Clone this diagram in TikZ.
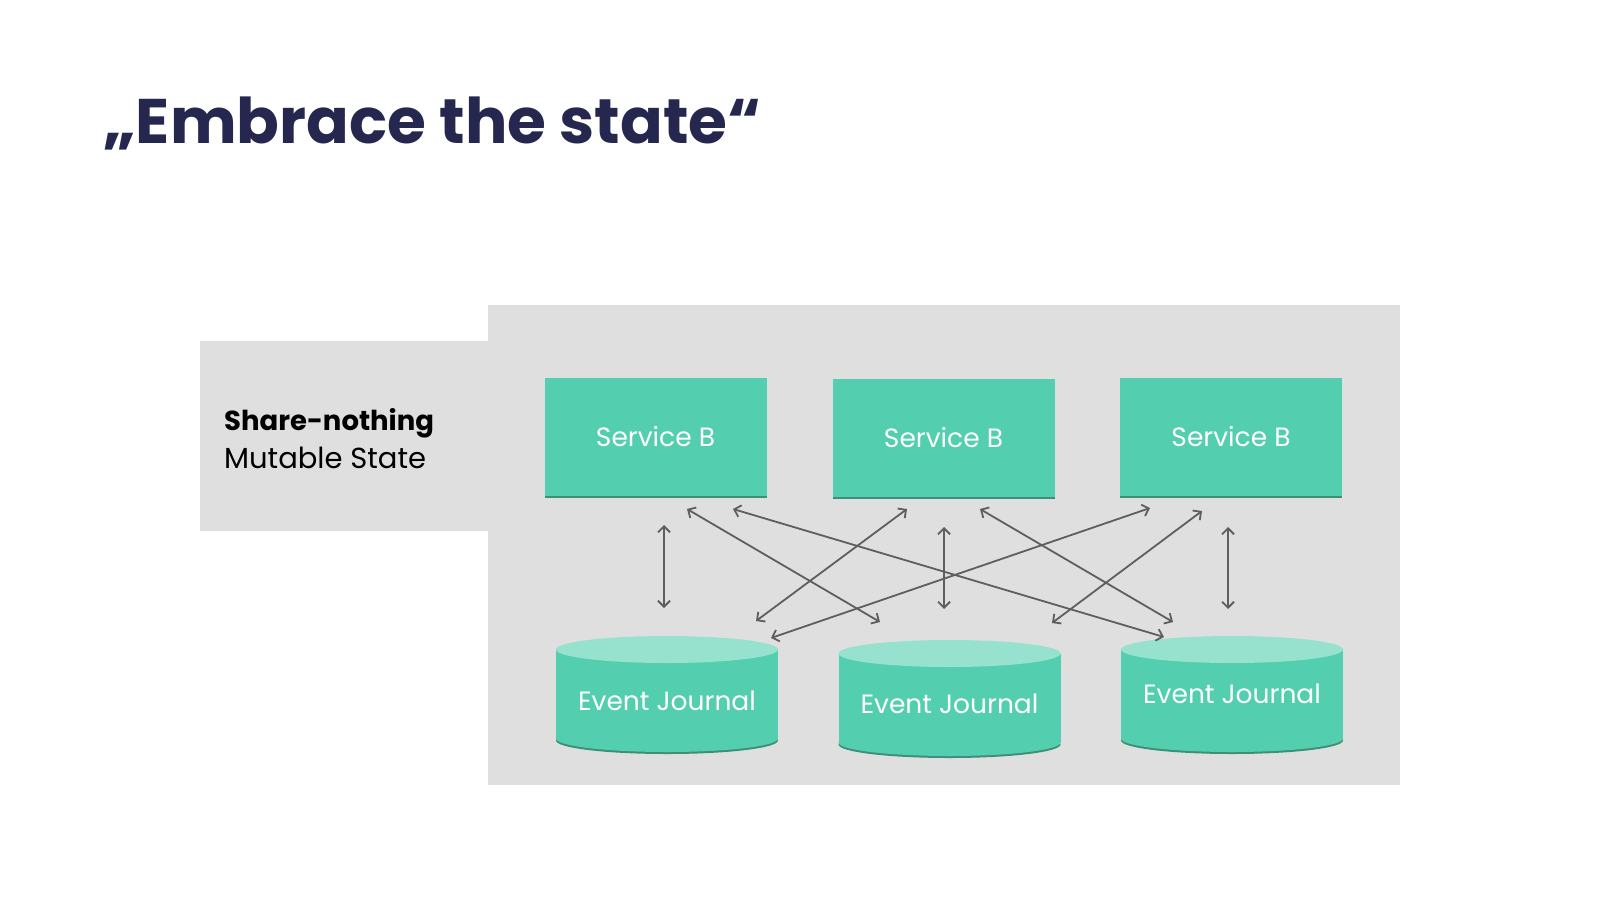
\documentclass[tikz,border=0pt]{standalone}
\usepackage{fontspec}
\setmainfont{Poppins}
\usetikzlibrary{arrows.meta,positioning}

\definecolor{svcgreen}{HTML}{53CFAF}
\definecolor{svctop}{HTML}{96E2CE}
\definecolor{svcdark}{HTML}{3C8F78}
\definecolor{panelgray}{HTML}{DFDFDF}
\definecolor{linkgray}{HTML}{5E5E5E}
\definecolor{titlenavy}{HTML}{26274F}

\begin{document}
\begin{tikzpicture}[x=1pt,y=-1pt,
    service/.style={fill=svcgreen, minimum width=222pt, minimum height=118pt, inner sep=0pt,
        text=white, font=\fontsize{26.5}{32}\selectfont,
        preaction={fill=svcdark, transform canvas={yshift=-2pt}}},
    journal/.style={text=white, inner sep=0pt, font=\fontsize{26.5}{32}\selectfont},
    link/.style={draw=linkgray, line width=1.8pt,
        {Straight Barb[length=6pt,width=12pt]}-{Straight Barb[length=6pt,width=12pt]}}]
    \useasboundingbox (0,0) rectangle (1600,900);

    % Title
    \node[anchor=base west, inner sep=0pt, text=titlenavy,
          font=\fontsize{63}{70}\selectfont\bfseries] (title) at (103,143) {„Embrace the state“};

    % Panels
    \fill[panelgray] (200,341) rectangle (488,531);
    \fill[panelgray] (488,305) rectangle (1400,785);
    \node[anchor=base west, inner sep=0pt, align=left,
          font=\fontsize{27.5}{38}\selectfont] (label) at (224,468)
          {\textbf{Share-nothing}\\\fontsize{29}{38}\selectfont Mutable State};

    % Services
    \node[service] (s1) at (655.5,437) {Service B};
    \node[service] (s2) at (943.5,437.5) {Service B};
    \node[service] (s3) at (1231,437) {Service B};

    % Event journals
    \foreach \cx/\ct/\ty/\name in {667/636/701/j1, 949.5/640/704/j2, 1232/636/694/j3} {
        \fill[svcdark] (\cx,\ct+104.5) ellipse [x radius=111, y radius=13.5];
        \fill[svcgreen] (\cx-111,\ct+13.5) rectangle (\cx+111,\ct+102.5);
        \fill[svcgreen] (\cx,\ct+102.5) ellipse [x radius=111, y radius=13.5];
        \fill[svctop] (\cx,\ct+13.5) ellipse [x radius=111, y radius=13.5];
        \node[journal] (\name) at (\cx,\ty) {Event Journal};
    }

    % Arrow ends below the services
    \coordinate (s1a) at (664,525);
    \coordinate (s1b) at (687,509);
    \coordinate (s1c) at (733,509);
    \coordinate (s2a) at (907,509);
    \coordinate (s2b) at (944,527);
    \coordinate (s2c) at (980,509);
    \coordinate (s3a) at (1150,508);
    \coordinate (s3b) at (1202,511);
    \coordinate (s3c) at (1228,527);
    % Arrow ends above the journals
    \coordinate (j1a) at (664,608);
    \coordinate (j1b) at (756,621);
    \coordinate (j1c) at (771,638);
    \coordinate (j2a) at (880,622);
    \coordinate (j2b) at (944,609);
    \coordinate (j2c) at (1052,623);
    \coordinate (j3a) at (1164,637);
    \coordinate (j3b) at (1173,622);
    \coordinate (j3c) at (1228,609);

    \foreach \from/\to in {s1a/j1a, s1b/j2a, s1c/j3a, s2a/j1b, s2b/j2b,
                           s2c/j3b, s3a/j1c, s3b/j2c, s3c/j3c}
        \draw[link] (\from) -- (\to);
\end{tikzpicture}
\end{document}
